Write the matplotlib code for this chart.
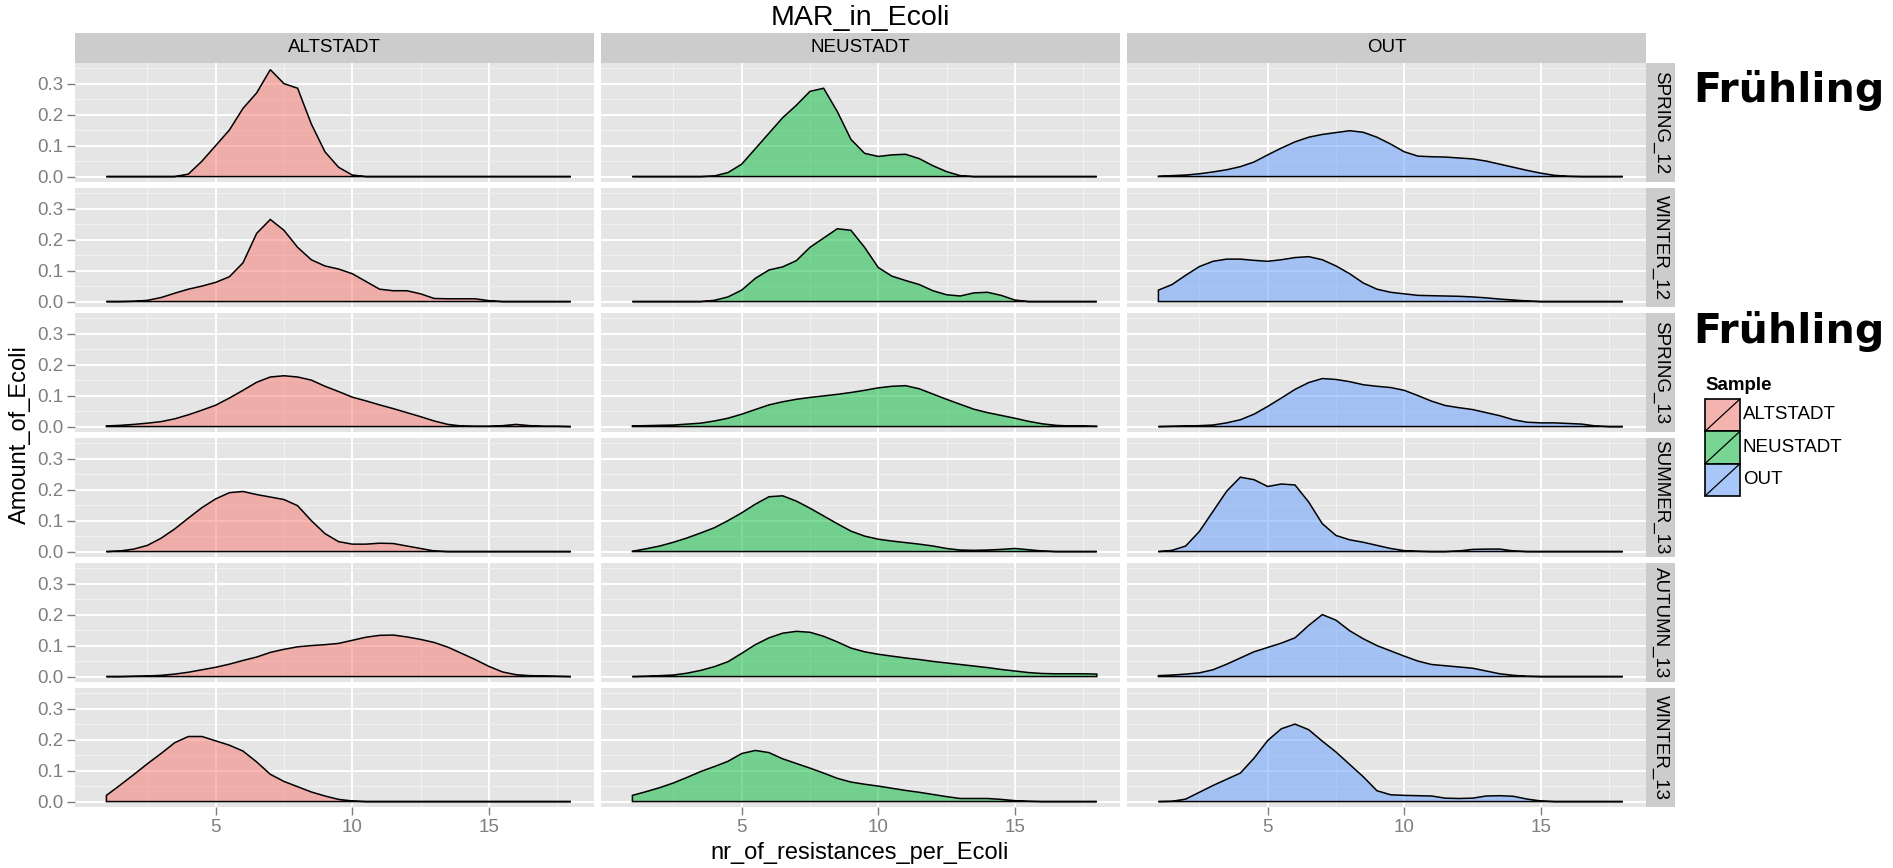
import numpy as np
import matplotlib.pyplot as plt
from matplotlib.colors import to_rgba
from matplotlib.patches import Rectangle

plt.rcParams['font.family'] = ['Liberation Sans', 'DejaVu Sans']

# density values read at x = 1, 1.5, ..., 18
resistances = np.arange(1, 18.5, 0.5)
samples = ['ALTSTADT', 'NEUSTADT', 'OUT']
seasons = ['SPRING_12', 'WINTER_12', 'SPRING_13', 'SUMMER_13', 'AUTUMN_13', 'WINTER_13']
sample_colors = ['#F8766D', '#00BA38', '#619CFF']

alt_spring12 = [0, 0, 0, 0, 0, 0, .008, .05, .10, .15,
                .22, .27, .345, .30, .285, .17, .08, .03, .005, 0,
                0, 0, 0, 0, 0, 0, 0, 0, 0, 0,
                0, 0, 0, 0, 0]
alt_winter12 = [0, 0, .001, .004, .013, .027, .04, .05, .062, .08,
                .125, .22, .265, .23, .175, .135, .115, .105, .09, .065,
                .04, .035, .035, .025, .01, .009, .009, .009, .003, 0,
                0, 0, 0, 0, 0]
alt_spring13 = [.002, .004, .007, .011, .016, .025, .038, .053, .069, .092,
                .117, .143, .16, .164, .16, .15, .13, .113, .095, .083,
                .07, .058, .045, .032, .018, .007, .002, .001, .001, .003,
                .007, .003, .001, .001, 0]
alt_summer13 = [0, .002, .008, .02, .043, .073, .108, .142, .17, .19,
                .194, .184, .176, .168, .148, .1, .058, .032, .024, .024,
                .027, .026, .018, .01, .002, 0, 0, 0, 0, 0,
                0, 0, 0, 0, 0]
alt_autumn13 = [0, 0, .001, .002, .004, .008, .014, .022, .03, .04,
                .052, .063, .078, .088, .096, .1, .103, .107, .117, .127,
                .133, .134, .128, .12, .11, .095, .075, .055, .033, .015,
                .006, .003, .002, .001, 0]
alt_winter13 = [.02, .053, .087, .122, .155, .19, .21, .21, .196, .182,
                .163, .128, .088, .065, .048, .031, .018, .007, .002, 0,
                0, 0, 0, 0, 0, 0, 0, 0, 0, 0,
                0, 0, 0, 0, 0]

neu_spring12 = [0, 0, 0, 0, 0, 0, .002, .013, .04, .09,
                .14, .19, .23, .275, .285, .21, .12, .075, .065, .07,
                .072, .058, .035, .016, .003, 0, 0, 0, 0, 0,
                0, 0, 0, 0, 0]
neu_winter12 = [0, 0, 0, 0, 0, 0, .004, .015, .037, .075,
                .102, .112, .132, .175, .205, .235, .23, .175, .11, .082,
                .068, .055, .035, .022, .018, .028, .03, .02, .005, 0,
                0, 0, 0, 0, 0]
neu_spring13 = [.002, .003, .004, .005, .008, .011, .018, .027, .04, .055,
                .07, .08, .088, .094, .099, .104, .11, .117, .125, .13,
                .132, .122, .105, .088, .072, .056, .045, .036, .027, .017,
                .009, .004, .002, .002, .001]
neu_summer13 = [.001, .009, .018, .03, .044, .06, .077, .1, .125, .153,
                .177, .18, .163, .14, .115, .09, .066, .05, .04, .034,
                .029, .024, .018, .01, .005, .004, .005, .007, .01, .006,
                .002, 0, 0, 0, 0]
neu_autumn13 = [0, .001, .003, .005, .011, .02, .032, .048, .075, .103,
                .125, .14, .146, .143, .13, .112, .092, .08, .072, .066,
                .06, .055, .049, .044, .039, .034, .029, .023, .018, .013,
                .01, .009, .009, .009, .008]
neu_winter13 = [.02, .032, .045, .06, .078, .097, .113, .13, .155, .165,
                .158, .138, .123, .108, .092, .075, .063, .056, .05, .043,
                .036, .03, .023, .016, .01, .01, .01, .007, .003, .001,
                0, 0, 0, 0, 0]

out_spring12 = [.001, .003, .005, .009, .015, .022, .032, .047, .07, .092,
                .112, .127, .136, .142, .148, .143, .127, .105, .08, .066,
                .064, .063, .06, .057, .05, .04, .03, .02, .011, .004,
                .001, 0, 0, 0, 0]
out_winter12 = [.037, .055, .085, .113, .13, .137, .137, .133, .13, .135,
                .142, .145, .135, .115, .09, .06, .04, .03, .025, .02,
                .019, .018, .017, .015, .012, .008, .005, .002, 0, 0,
                0, 0, 0, 0, 0]
out_spring13 = [0, .001, .002, .003, .005, .012, .022, .04, .065, .092,
                .12, .142, .155, .152, .145, .135, .13, .126, .117, .1,
                .082, .068, .061, .055, .045, .035, .022, .014, .012, .012,
                .01, .008, .002, 0, 0]
out_summer13 = [0, .004, .018, .065, .13, .195, .24, .232, .21, .218,
                .215, .16, .09, .052, .038, .03, .02, .01, .003, .001,
                0, 0, .002, .007, .008, .008, .002, 0, 0, 0,
                0, 0, 0, 0, 0]
out_autumn13 = [.003, .005, .008, .012, .022, .04, .06, .08, .094, .108,
                .125, .165, .2, .182, .148, .122, .1, .083, .066, .05,
                .039, .035, .031, .027, .018, .009, .004, .001, 0, 0,
                0, 0, 0, 0, 0]
out_winter13 = [0, .001, .008, .03, .052, .072, .092, .14, .197, .235,
                .25, .232, .195, .16, .12, .08, .035, .022, .02, .019,
                .018, .011, .01, .011, .018, .019, .017, .008, .002, 0,
                0, 0, 0, 0, 0]

density = {
    'ALTSTADT': [alt_spring12, alt_winter12, alt_spring13, alt_summer13, alt_autumn13, alt_winter13],
    'NEUSTADT': [neu_spring12, neu_winter12, neu_spring13, neu_summer13, neu_autumn13, neu_winter13],
    'OUT': [out_spring12, out_winter12, out_spring13, out_summer13, out_autumn13, out_winter13],
}

W, H = 1893, 868
fig = plt.figure(figsize=(W / 100, H / 100), dpi=100)


def box(x0, y0, w, h):
    # pixel box (from top left) -> figure fraction
    return [x0 / W, 1 - (y0 + h) / H, w / W, h / H]


col_left = [75, 601, 1127]
col_w = 519
row_h = 119
row_top = [63 + 125 * i for i in range(len(seasons))]
grey50 = '#7F7F7F'

for c, s in enumerate(samples):
    for r, season in enumerate(seasons):
        ax = fig.add_axes(box(col_left[c], row_top[r], col_w, row_h))
        ax.set_facecolor('#E5E5E5')
        for sp in ax.spines.values():
            sp.set_visible(False)
        ax.set_xlim(-0.15, 18.85)
        ax.set_ylim(-0.0175, 0.3665)
        ax.set_xticks([5, 10, 15])
        ax.set_xticks([2.5, 7.5, 12.5, 17.5], minor=True)
        ax.set_yticks([0, 0.1, 0.2, 0.3])
        ax.set_yticks([0.05, 0.15, 0.25, 0.35], minor=True)
        ax.set_yticklabels(['0.0', '0.1', '0.2', '0.3'])
        ax.grid(which='major', color='white', lw=1.4)
        ax.grid(which='minor', color='#F2F2F2', lw=0.7)
        ax.set_axisbelow(True)
        ax.tick_params(which='minor', length=0)
        ax.tick_params(which='major', length=5.5, width=1, color=grey50,
                       labelcolor=grey50, labelsize=13.5, pad=3)
        ax.tick_params(left=(c == 0), labelleft=(c == 0),
                       bottom=(r == len(seasons) - 1), labelbottom=(r == len(seasons) - 1))

        yv = np.array(density[s][r])
        xs = np.r_[resistances, resistances[::-1]]
        ys = np.r_[yv, np.zeros_like(yv)]
        ax.fill(xs, ys, facecolor=to_rgba(sample_colors[c], 0.5),
                edgecolor='black', lw=1.1, zorder=3)

# strips
for c, s in enumerate(samples):
    st = fig.add_axes(box(col_left[c], 33, col_w, 30))
    st.set_facecolor('#CCCCCC')
    st.set_xticks([]); st.set_yticks([])
    for sp in st.spines.values():
        sp.set_visible(False)
    st.text(0.5, 0.5, s, ha='center', va='center', fontsize=13.5, transform=st.transAxes)

for r, season in enumerate(seasons):
    st = fig.add_axes(box(1646, row_top[r], 29, row_h))
    st.set_facecolor('#CCCCCC')
    st.set_xticks([]); st.set_yticks([])
    for sp in st.spines.values():
        sp.set_visible(False)
    st.text(0.5, 0.5, season, ha='center', va='center', rotation=-90,
            fontsize=13.5, transform=st.transAxes)

fig.text(860 / W, 1 - 18 / H, 'MAR_in_Ecoli', ha='center', va='center', fontsize=20.5)
fig.text(860 / W, 1 - 853 / H, 'nr_of_resistances_per_Ecoli', ha='center', va='center', fontsize=17)
fig.text(20 / W, 1 - 435 / H, 'Amount_of_Ecoli', ha='center', va='center', rotation=90, fontsize=17)

# Fruehling notes
for base in [102, 343]:
    fig.text(1693 / W, 1 - base / H, 'Frühling', family='DejaVu Sans', weight='bold',
             fontsize=29.5, va='baseline', ha='left')

# legend
fig.text(1705 / W, 1 - 390 / H, 'Sample', weight='bold', fontsize=13.5, va='baseline', ha='left')
lg = fig.add_axes(box(1705, 399, 35, 97))
lg.set_xlim(0, 1)
lg.set_ylim(3, 0)
lg.axis('off')
for i, s in enumerate(samples):
    lg.add_patch(Rectangle((0, i), 1, 1, facecolor='#F2F2F2', edgecolor='none', clip_on=False))
    lg.add_patch(Rectangle((0, i), 1, 1, facecolor=to_rgba(sample_colors[i], 0.5),
                           edgecolor='black', lw=1.2, clip_on=False))
    lg.plot([0, 1], [i + 1, i], color='black', lw=0.9, clip_on=False)
    fig.text(1743 / W, 1 - (399 + 32.3 * i + 16) / H, s, fontsize=13.5, va='center', ha='left')

fig.savefig('out.png', dpi=100)
